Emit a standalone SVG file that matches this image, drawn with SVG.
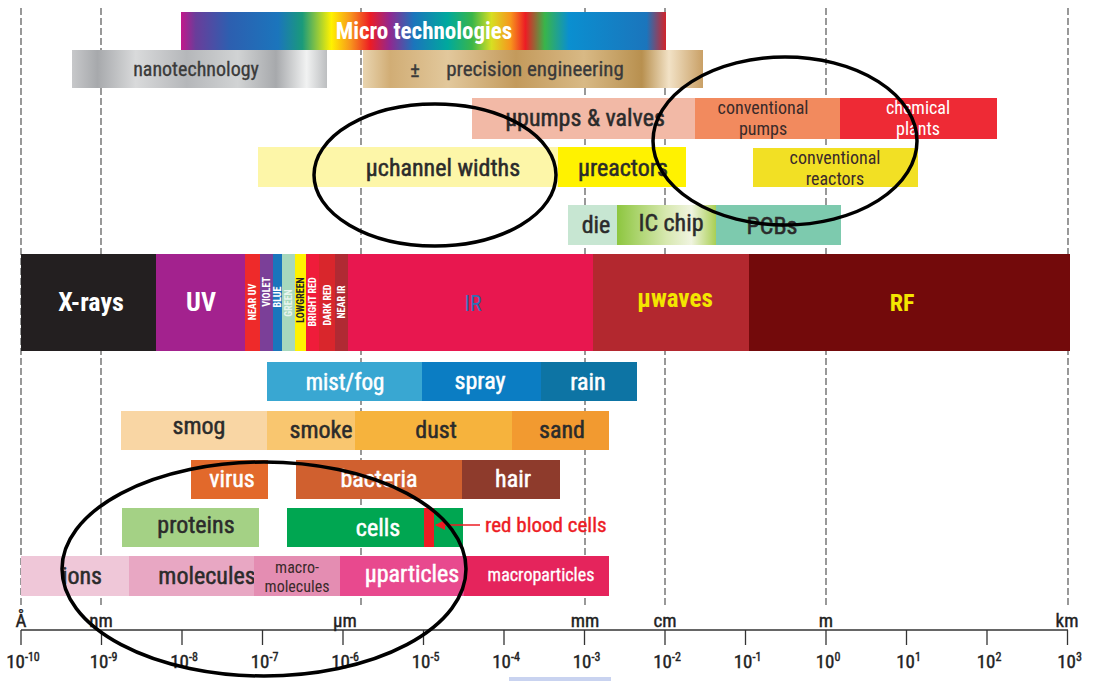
<svg xmlns="http://www.w3.org/2000/svg" width="1096" height="681" viewBox="0 0 1096 681">
<defs>
<linearGradient id="rainbow" x1="0" x2="1" y1="0" y2="0">
<stop offset="0" stop-color="#c2188b"/>
<stop offset="0.03" stop-color="#6a3d9a"/>
<stop offset="0.1" stop-color="#2d5fb0"/>
<stop offset="0.2" stop-color="#1b75bc"/>
<stop offset="0.25" stop-color="#1a9a7a"/>
<stop offset="0.28" stop-color="#8dc63f"/>
<stop offset="0.31" stop-color="#fff200"/>
<stop offset="0.35" stop-color="#f7941d"/>
<stop offset="0.39" stop-color="#ed1c24"/>
<stop offset="0.43" stop-color="#92278f"/>
<stop offset="0.48" stop-color="#1b75bc"/>
<stop offset="0.55" stop-color="#00a99d"/>
<stop offset="0.6" stop-color="#39b54a"/>
<stop offset="0.64" stop-color="#d7df23"/>
<stop offset="0.68" stop-color="#f7941d"/>
<stop offset="0.71" stop-color="#ed1c24"/>
<stop offset="0.75" stop-color="#39b54a"/>
<stop offset="0.8" stop-color="#0a8fd0"/>
<stop offset="0.96" stop-color="#1b75bc"/>
<stop offset="1" stop-color="#d2232a"/>
</linearGradient>
<linearGradient id="silver" x1="0" x2="1" y1="0" y2="0">
<stop offset="0" stop-color="#c7c8ca"/>
<stop offset="0.1" stop-color="#a7a9ac"/>
<stop offset="0.25" stop-color="#d9dadb"/>
<stop offset="0.45" stop-color="#b5b7ba"/>
<stop offset="0.65" stop-color="#d1d3d4"/>
<stop offset="0.8" stop-color="#a7a9ac"/>
<stop offset="0.92" stop-color="#f1f2f2"/>
<stop offset="1" stop-color="#bcbec0"/>
</linearGradient>
<linearGradient id="gold" x1="0" x2="1" y1="0" y2="0">
<stop offset="0" stop-color="#e9d5b0"/>
<stop offset="0.08" stop-color="#d1ad75"/>
<stop offset="0.25" stop-color="#e2c89c"/>
<stop offset="0.45" stop-color="#c39a5c"/>
<stop offset="0.65" stop-color="#d8b985"/>
<stop offset="0.82" stop-color="#b8904f"/>
<stop offset="0.9" stop-color="#f2e2c6"/>
<stop offset="1" stop-color="#c9a066"/>
</linearGradient>
<linearGradient id="icchip" x1="0" x2="1" y1="0" y2="0">
<stop offset="0" stop-color="#8dc63f"/>
<stop offset="0.5" stop-color="#d7e8b0"/>
<stop offset="0.75" stop-color="#f0f4e0"/>
<stop offset="1" stop-color="#a9cf54"/>
</linearGradient>
<marker id="arr" viewBox="0 0 10 10" refX="9" refY="5" markerWidth="7" markerHeight="7" orient="auto">
<path d="M0,0 L10,5 L0,10 z" fill="#ed1c24"/>
</marker>
<style>
text{font-family:"Liberation Sans Narrow","Roboto Condensed","Liberation Sans",Arial,sans-serif;text-anchor:middle}
.dash{stroke:#555;stroke-width:1.2;stroke-dasharray:7 3;fill:none}
.lbl{font-size:24px;fill:#2b2b2b;stroke:#2b2b2b;stroke-width:0.5}
.w{font-size:24px;fill:#fff;stroke:#fff;stroke-width:0.5}
.sm{font-size:18px;fill:#3a2a2a}
.vis{font-size:10px;font-weight:bold;fill:#fff}
.ax{font-size:19px;fill:#222;stroke:#222;stroke-width:0.4}
.sup{font-size:12px}
.ell{fill:none;stroke:#000;stroke-width:3.5}
</style>
</defs>
<rect width="1096" height="681" fill="#fff"/>
<g id="gridlines">
<line class="dash" x1="21" y1="8" x2="21" y2="606"/>
<line class="dash" x1="101" y1="8" x2="101" y2="606"/>
<line class="dash" x1="361" y1="8" x2="361" y2="606"/>
<line class="dash" x1="585" y1="8" x2="585" y2="606"/>
<line class="dash" x1="665" y1="8" x2="665" y2="606"/>
<line class="dash" x1="826" y1="8" x2="826" y2="606"/>
<line class="dash" x1="1068" y1="8" x2="1068" y2="606"/>
</g>
<g id="micro"><rect x="181" y="12" width="485" height="38" fill="url(#rainbow)"/><text x="424" y="39" style="font-size:23px;font-weight:bold;fill:#fff">Micro technologies</text></g>
<g id="nano"><rect x="72" y="50" width="255" height="38" fill="url(#silver)"/><text class="lbl" x="196" y="76" style="font-size:20px;fill:#3a3a3a;stroke:#3a3a3a;stroke-width:0.3">nanotechnology</text></g>
<g id="precision"><rect x="363" y="50" width="340" height="38" fill="url(#gold)"/><text class="lbl" x="415" y="77" style="font-size:21px;fill:#3a3a3a;stroke:#3a3a3a;stroke-width:0.3">±</text><text class="lbl" x="535" y="76" style="font-size:21px;fill:#3a3a3a;stroke:#3a3a3a;stroke-width:0.3">precision engineering</text></g>
<g id="upumps"><rect x="472" y="98" width="223" height="41" fill="#f2b9a6"/><text class="lbl" x="585" y="126">µpumps &amp; valves</text></g>
<g id="convpumps"><rect x="695" y="98" width="145" height="41" fill="#f28a5e"/><text class="sm" x="763" y="114">conventional</text><text class="sm" x="763" y="135">pumps</text></g>
<g id="chemplants"><rect x="840" y="98" width="157" height="41" fill="#ee2a35"/><text class="sm" x="918" y="114" style="fill:#fff">chemical</text><text class="sm" x="918" y="135" style="fill:#fff">plants</text></g>
<g id="uchannel"><rect x="258" y="147" width="300" height="40" fill="#fdf6a8"/><text class="lbl" x="443" y="176">µchannel widths</text></g>
<g id="ureactors"><rect x="558" y="147" width="128" height="40" fill="#fff200"/><text class="lbl" x="623" y="176">µreactors</text></g>
<g id="convreactors"><rect x="753" y="148" width="165" height="39" fill="#f2e024"/><text class="sm" x="835" y="164">conventional</text><text class="sm" x="835" y="185">reactors</text></g>
<g id="die"><rect x="568" y="205" width="49" height="40" fill="#c7e6d2"/><text class="lbl" x="596" y="233">die</text></g>
<g id="icchip"><rect x="617" y="205" width="99" height="40" fill="url(#icchip)"/><text class="lbl" x="671" y="231">IC chip</text></g>
<g id="pcbs"><rect x="716" y="205" width="125" height="40" fill="#7dcaae"/><text class="lbl" x="772" y="234">PCBs</text></g>
<g id="spectrum">
<rect x="21" y="254" width="135" height="97" fill="#231f20"/>
<rect x="156" y="254" width="90" height="97" fill="#a3228e"/>
<rect x="245" y="254" width="15" height="97" fill="#ee2a2a"/>
<rect x="260" y="254" width="13" height="97" fill="#7b3f98"/>
<rect x="273" y="254" width="9" height="97" fill="#1a75bc"/>
<rect x="282" y="254" width="13" height="97" fill="#a7d8bd"/>
<rect x="295" y="254" width="11" height="97" fill="#fff200"/>
<rect x="306" y="254" width="13" height="97" fill="#ef1c3a"/>
<rect x="319" y="254" width="16" height="97" fill="#d9262c"/>
<rect x="335" y="254" width="13" height="97" fill="#b02a33"/>
<rect x="348" y="254" width="245" height="97" fill="#e8174f"/>
<rect x="593" y="254" width="156" height="97" fill="#b3282f"/>
<rect x="749" y="254" width="321" height="97" fill="#730a0b"/>
<text x="91" y="311" style="font-size:26px;font-weight:bold;fill:#fff">X-rays</text>
<text x="201" y="311" style="font-size:26px;font-weight:bold;fill:#fff">UV</text>
<text class="vis" transform="translate(252.5,302) rotate(-90)" dy="3.5">NEAR UV</text>
<text class="vis" transform="translate(266.5,292) rotate(-90)" dy="3.5">VIOLET</text>
<text class="vis" transform="translate(277.5,297) rotate(-90)" dy="3.5">BLUE</text>
<text class="vis" transform="translate(288.5,303) rotate(-90)" dy="3.5" style="fill:#e8f5ee">GREEN</text>
<text class="vis" transform="translate(300.5,300) rotate(-90)" dy="3.5" style="fill:#222">LOWGREEN</text>
<text class="vis" transform="translate(312.5,302) rotate(-90)" dy="3.5">BRIGHT RED</text>
<text class="vis" transform="translate(327,305) rotate(-90)" dy="3.5">DARK RED</text>
<text class="vis" transform="translate(341.5,302) rotate(-90)" dy="3.5">NEAR IR</text>
<text x="473" y="311" style="font-size:22px;fill:#2f6fb5">IR</text>
<text x="675" y="307" style="font-size:25px;fill:#f4e600;font-weight:bold">µwaves</text>
<text x="902" y="311" style="font-size:24px;fill:#f4e600;font-weight:bold">RF</text>
</g>
<g id="mistfog"><rect x="267" y="362" width="155" height="39" fill="#39a7d2"/><text class="w" x="345" y="390" style="font-size:23px">mist/fog</text></g>
<g id="spray"><rect x="422" y="362" width="119" height="39" fill="#0b7dc3"/><text class="w" x="480" y="389">spray</text></g>
<g id="rain"><rect x="541" y="362" width="96" height="39" fill="#0d74a4"/><text class="w" x="588" y="390">rain</text></g>
<g id="smog"><rect x="121" y="411" width="146" height="39" fill="#f9d6a4"/><text class="lbl" x="199" y="434">smog</text></g>
<g id="smoke"><rect x="267" y="411" width="88" height="39" fill="#f9c66f"/><text class="lbl" x="321" y="438">smoke</text></g>
<g id="dust"><rect x="355" y="411" width="157" height="39" fill="#f6b33d"/><text class="lbl" x="436" y="438">dust</text></g>
<g id="sand"><rect x="512" y="411" width="97" height="39" fill="#f29a30"/><text class="lbl" x="562" y="438">sand</text></g>
<g id="virus"><rect x="191" y="460" width="77" height="39" fill="#e2692b"/><text class="w" x="232" y="487">virus</text></g>
<g id="bacteria"><rect x="296" y="460" width="166" height="39" fill="#d0602f"/><text class="w" x="379" y="487">bacteria</text></g>
<g id="hair"><rect x="462" y="460" width="98" height="39" fill="#8e3b2c"/><text class="w" x="513" y="487">hair</text></g>
<g id="proteins"><rect x="122" y="508" width="137" height="39" fill="#a4d185"/><text class="lbl" x="196" y="533">proteins</text></g>
<g id="cells"><rect x="287" y="508" width="176" height="39" fill="#00a651"/><rect x="424" y="508" width="10" height="39" fill="#ed1c24"/><text class="w" x="378" y="536">cells</text></g>
<g id="ions"><rect x="21" y="556" width="108" height="40" fill="#efc7d8"/><text class="lbl" x="82" y="584">ions</text></g>
<g id="molecules"><rect x="129" y="556" width="125" height="40" fill="#e8a7c3"/><text class="lbl" x="207" y="584">molecules</text></g>
<g id="macromolecules"><rect x="254" y="556" width="86" height="40" fill="#e48db2"/><text class="sm" x="297" y="573" style="font-size:16px">macro-</text><text class="sm" x="297" y="592" style="font-size:16px">molecules</text></g>
<g id="uparticles"><rect x="340" y="556" width="124" height="40" fill="#e8498e"/><text class="w" x="412" y="582">µparticles</text></g>
<g id="macroparticles"><rect x="464" y="556" width="145" height="40" fill="#e5245c"/><text class="w" x="541" y="581" style="font-size:18px;stroke-width:0.3">macroparticles</text></g>
<g id="connectors">
<line x1="480" y1="525" x2="436" y2="525" stroke="#ed1c24" stroke-width="1.5" marker-end="url(#arr)"/>
</g>
<g id="rbc-label"><text x="485" y="532" style="font-size:21px;fill:#ed1c24;stroke:#ed1c24;stroke-width:0.4;text-anchor:start">red blood cells</text></g>
<g id="axis">
<line x1="21" y1="630" x2="1068" y2="630" stroke="#333" stroke-width="1.3"/>
<g stroke="#333" stroke-width="1.3">
<line x1="21" y1="630" x2="21" y2="645"/><line x1="101.5" y1="630" x2="101.5" y2="645"/><line x1="182" y1="630" x2="182" y2="645"/><line x1="262.5" y1="630" x2="262.5" y2="645"/><line x1="343" y1="630" x2="343" y2="645"/><line x1="423.5" y1="630" x2="423.5" y2="645"/><line x1="504" y1="630" x2="504" y2="645"/><line x1="584.5" y1="630" x2="584.5" y2="645"/><line x1="665" y1="630" x2="665" y2="645"/><line x1="745.5" y1="630" x2="745.5" y2="645"/><line x1="826" y1="630" x2="826" y2="645"/><line x1="906.5" y1="630" x2="906.5" y2="645"/><line x1="987" y1="630" x2="987" y2="645"/><line x1="1067.5" y1="630" x2="1067.5" y2="645"/>
</g>
<text class="ax" x="21" y="627">Å</text><text class="ax" x="101" y="627">nm</text><text class="ax" x="345" y="627">µm</text><text class="ax" x="585" y="627">mm</text><text class="ax" x="665" y="627">cm</text><text class="ax" x="826" y="627">m</text><text class="ax" x="1067" y="627">km</text>
<text class="ax" x="23" y="668">10<tspan class="sup" dy="-7">-10</tspan></text>
<text class="ax" x="103.5" y="668">10<tspan class="sup" dy="-7">-9</tspan></text>
<text class="ax" x="184" y="668">10<tspan class="sup" dy="-7">-8</tspan></text>
<text class="ax" x="264.5" y="668">10<tspan class="sup" dy="-7">-7</tspan></text>
<text class="ax" x="345" y="668">10<tspan class="sup" dy="-7">-6</tspan></text>
<text class="ax" x="425.5" y="668">10<tspan class="sup" dy="-7">-5</tspan></text>
<text class="ax" x="506" y="668">10<tspan class="sup" dy="-7">-4</tspan></text>
<text class="ax" x="586.5" y="668">10<tspan class="sup" dy="-7">-3</tspan></text>
<text class="ax" x="667" y="668">10<tspan class="sup" dy="-7">-2</tspan></text>
<text class="ax" x="747.5" y="668">10<tspan class="sup" dy="-7">-1</tspan></text>
<text class="ax" x="828" y="668">10<tspan class="sup" dy="-7">0</tspan></text>
<text class="ax" x="908.5" y="668">10<tspan class="sup" dy="-7">1</tspan></text>
<text class="ax" x="989" y="668">10<tspan class="sup" dy="-7">2</tspan></text>
<text class="ax" x="1069.5" y="668">10<tspan class="sup" dy="-7">3</tspan></text>
</g>
<rect x="509" y="677" width="102" height="4" fill="#c9d3f0"/>
<g id="ellipses">
<ellipse class="ell" cx="435" cy="175" rx="121" ry="71"/>
<ellipse class="ell" cx="785" cy="141" rx="132" ry="84"/>
<ellipse class="ell" cx="264" cy="569" rx="202" ry="107"/>
</g>
</svg>
